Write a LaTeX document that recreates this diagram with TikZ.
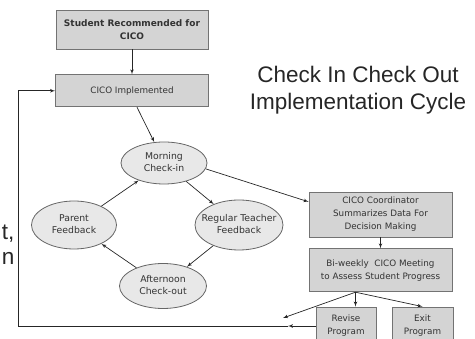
\documentclass[tikz,border=0pt]{standalone}
\usepackage{fontspec}
\setmainfont{DejaVu Sans}
\newfontfamily\titlefont{Liberation Sans}
\usetikzlibrary{shapes, arrows, positioning}

\newcommand{\phasetext}[1]{\makebox[0pt]{\begin{tabular}{@{}c@{}}#1\end{tabular}}}

\begin{document}
\begin{tikzpicture}[
x=1pt, y=-1pt,
every node/.style={font=\fontsize{8.8}{13}\selectfont, text=black!80},
block/.style={rectangle, text centered, align=center, inner sep=0pt,
line width=0.8pt, draw=black!55, fill=black!17},
block-bold/.style={block, font=\fontsize{9}{13}\selectfont\bfseries},
phase/.style={ellipse, text centered, inner sep=0pt,
line width=0.8pt, draw=black!60, fill=black!9, font=\fontsize{9.3}{12.5}\selectfont},
heading/.style={align=center, text=black!85, font=\titlefont\fontsize{22.5}{27}\selectfont},
line/.style={draw, -latex', line width=0.7pt, black!85}
]
\useasboundingbox (0,0) rectangle (475,339);

\node[block-bold, minimum width=152pt, minimum height=39pt] (student) at (132,29.5) {Student Recommended for\\CICO};
\node[block, minimum width=153pt, minimum height=32pt, below=25pt of student] (impl) {CICO Implemented};
\node[heading] (title) at (358,90) {Check In Check Out\\Implementation Cycle};
\node[phase, minimum width=86pt, minimum height=42pt] (morning) at (164,163) {\phasetext{Morning\\Check-in}};
\node[phase, minimum width=85pt, minimum height=48pt] (parent) at (74,225) {\phasetext{Parent\\Feedback}};
\node[phase, minimum width=88pt, minimum height=50pt] (teacher) at (239,225) {\phasetext{Regular Teacher\\Feedback}};
\node[phase, minimum width=87pt, minimum height=45pt] (afternoon) at (163,286) {\phasetext{Afternoon\\Check-out}};
\node[block, minimum width=143pt, minimum height=45pt] (coordinator) at (380.5,214.5) {CICO Coordinator\\Summarizes Data For\\Decision Making};
\node[block, minimum width=143pt, minimum height=43pt, below=11pt of coordinator] (meeting) {Bi-weekly\ \ CICO Meeting\\to Assess Student Progress};
\node[block, minimum width=60pt, minimum height=38pt] (revise) at (346,326) {Revise\\Program};
\node[block, minimum width=61pt, minimum height=38pt] (exit) at (422.5,326) {Exit\\Program};
\node[heading, anchor=base east] (frag-t) at (18,240) {t,};
\node[heading, anchor=base east] (frag-n) at (18,265) {n};

\coordinate (split) at ([xshift=-25pt]meeting.south);
\coordinate (return) at (283,318);
\coordinate (returntip) at (288,326);
\coordinate (corner) at (18,326);

\path [line] (student) -- (impl);
\path [line] ([xshift=5pt]impl.south) -- (morning.115);
\path [line] (morning) -- (teacher);
\path [line] (teacher) -- (afternoon);
\path [line] (afternoon) -- (parent);
\path [line] (parent) -- (morning);
\path [line] (morning.-8) -- (coordinator.170);
\path [line] (coordinator) -- (meeting);
\path [line] (split) -- (split |- revise.north);
\path [line] (split) -- (exit.north);
\path [line] (split) -- (return);
\path [line] (revise.west) -- (returntip);
\draw [line width=0.7pt, black!85] (returntip) -- (corner);
\path [line] (corner) |- (impl.west);
\end{tikzpicture}
\end{document}
